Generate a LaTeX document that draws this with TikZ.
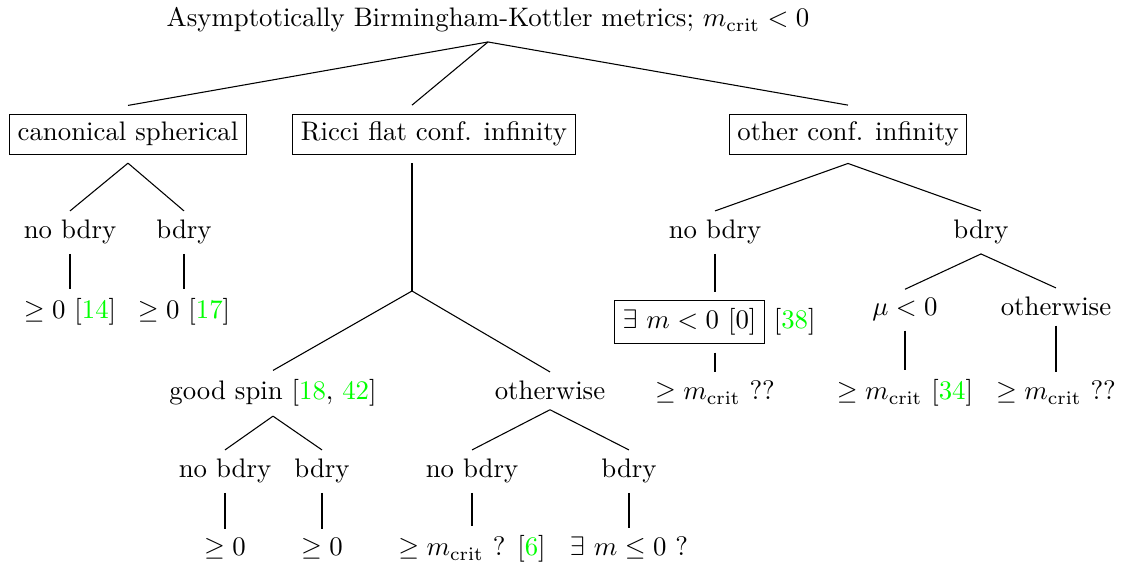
\documentclass[tikz,border=0pt]{standalone}
\usepackage{xcolor}
\newcommand{\mcrit}{m_{\mathrm{crit}}}
\newcommand{\gref}[1]{\textcolor{green}{#1}}
\tikzset{
  lbl/.style={anchor=base, inner sep=3.33pt},
  boxnode/.style={lbl, draw, inner sep=3pt, outer sep=3.33pt},
}
\begin{document}
\begin{tikzpicture}[x=0.3731pt, y=-0.3731pt]
            \useasboundingbox (0,0) rectangle (1122,567);
            \node[lbl] (root) at (488,27) {Asymptotically Birmingham-Kottler metrics; $\mcrit<0$};
            \node[boxnode] (canon) at (128,141) {canonical spherical};
            \node[boxnode] (ricci) at (434,141) {Ricci flat conf. infinity};
            \node[boxnode] (other) at (848,141) {other conf. infinity};
            \coordinate (split) at (412,291);
            \draw (root.south) -- (canon.north);
            \draw (root.south) -- (ricci.north -| split);
            \draw (root.south) -- (other.north);

            % canonical spherical
            \node[lbl] (cnob) at (70,239) {no bdry};
            \node[lbl] (cb) at (184,239) {bdry};
            \node[lbl] (cnobv) at (70,319) {$\geq 0$ [\gref{14}]};
            \node[lbl] (cbv) at (184,319) {$\geq 0$ [\gref{17}]};
            \draw (canon.south) -- (cnob.north);
            \draw (canon.south) -- (cb.north);
            \draw (cnob.south) -- (cnobv.north);
            \draw (cb.south) -- (cbv.north);

            % Ricci flat
            \node[lbl] (spin) at (273,400) {good spin [\gref{18}, \gref{42}]};
            \node[lbl] (rother) at (550,400) {otherwise};
            \node[lbl] (snob) at (225,478) {no bdry};
            \node[lbl] (sb) at (322,478) {bdry};
            \node[lbl] (onob) at (472,478) {no bdry};
            \node[lbl] (ob) at (629,478) {bdry};
            \node[lbl] (snobv) at (225,556) {$\geq 0$};
            \node[lbl] (sbv) at (322,556) {$\geq 0$};
            \node[lbl] (onobv) at (472,556) {$\geq \mcrit$ ? [\gref{6}]};
            \node[lbl] (obv) at (629,556) {$\exists\ m\leq 0$ ?};
            \draw (ricci.south -| split) -- (split);
            \draw (split) -- (spin.north);
            \draw (split) -- (rother.north);
            \draw (spin.south) -- (snob.north);
            \draw (spin.south) -- (sb.north);
            \draw (rother.south) -- (onob.north);
            \draw (rother.south) -- (ob.north);
            \draw (snob.south) -- (snobv.north);
            \draw (sb.south) -- (sbv.north);
            \draw (onob.south) -- (onobv.north);
            \draw (ob.south) -- (obv.north);

            % other conf. infinity
            \node[lbl] (xnob) at (715,239) {no bdry};
            \node[lbl] (xb) at (981,239) {bdry};
            \node[boxnode] (exists) at (689.5,329) {$\exists\ m<0$ [0]};
            \node[anchor=base west, inner sep=0pt] (ref38) at (exists.base east) {[\gref{38}]};
            \node[lbl] (xnobv) at (715,400) {$\geq \mcrit$ ??};
            \node[lbl] (mu) at (905,316) {$\mu<0$};
            \node[lbl] (xother) at (1056,316) {otherwise};
            \node[lbl] (muv) at (905,400) {$\geq \mcrit$ [\gref{34}]};
            \node[lbl] (xotherv) at (1056,400) {$\geq \mcrit$ ??};
            \draw (other.south) -- (xnob.north);
            \draw (other.south) -- (xb.north);
            \draw (xnob.south) -- (xnob.south |- exists.north);
            \draw (xnob.south |- exists.south) -- (xnobv.north);
            \draw (xb.south) -- (mu.north);
            \draw (xb.south) -- (xother.north);
            \draw (mu.south) -- (muv.north);
            \draw (xother.south) -- (xotherv.north);
\end{tikzpicture}
\end{document}
